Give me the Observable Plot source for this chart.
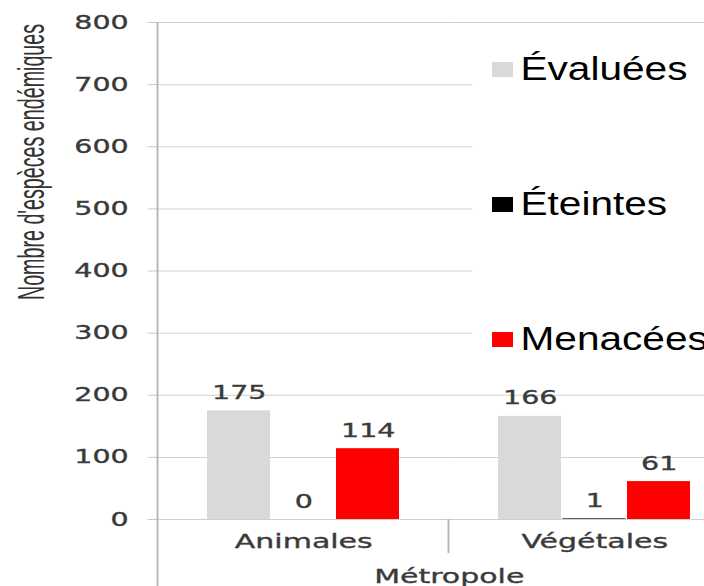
<!DOCTYPE html>
<html>
<head>
<meta charset="utf-8">
<script src="https://cdn.jsdelivr.net/npm/d3@7"></script>
<script src="https://cdn.jsdelivr.net/npm/@observablehq/plot@0.6"></script>
<style>
  html, body { margin: 0; padding: 0; background: #fff; overflow: hidden; width: 704px; height: 586px; }
  #wrap { position: relative; width: 504px; height: 600px; transform: scaleX(1.5); transform-origin: 0 0; }
  #wrap svg text { paint-order: stroke; stroke: #3a3a3a; stroke-width: 0.35px; }
  #ytitle { position: absolute; left: 20.7px; top: 162px; transform: translate(-50%, -50%) rotate(-90deg) scaleX(0.82);
    white-space: nowrap; font-family: "Liberation Sans", Arial, sans-serif; font-size: 24px; line-height: 1; color: #333; }
  #legend { position: absolute; left: 315px; top: 30px; width: 200px; height: 335px; background: #fff; }
  .sw { position: absolute; left: 13px; width: 14px; height: 15px; }
  .lab { position: absolute; left: 32px; font-family: "Liberation Sans", Arial, sans-serif; font-size: 33px; line-height: 33px;
    color: #000; white-space: nowrap; transform: scaleX(0.82); transform-origin: 0 0; }
</style>
</head>
<body>
<div id="wrap"></div>
<script>
const groups = ["Animales", "Végétales"];
const series = ["Évaluées", "Éteintes", "Menacées"];
const evaluees = [175, 166];
const eteintes = [0, 1];
const menacees = [114, 61];
const seriesColors = ["#d9d9d9", "#000000", "#ff0000"];
const yTicks = [0, 100, 200, 300, 400, 500, 600, 700, 800];
const yTitle = "Nombre d'espèces endémiques";
const groupTitle = "Métropole";

const valuesBySeries = [evaluees, eteintes, menacees];
const data = groups.flatMap((g, i) => series.map((s, j) => ({group: g, series: s, value: valuesBySeries[j][i]})));

const W = 504, H = 600;
const plot = Plot.plot({
  width: W, height: H,
  marginLeft: 105, marginRight: 11, marginTop: 22, marginBottom: 81,
  style: {fontFamily: "DejaVu Sans", background: "transparent", overflow: "visible"},
  fx: {domain: groups, padding: 0, label: groupTitle},
  x: {domain: series, paddingInner: 0.03, paddingOuter: 0.74, axis: null},
  y: {domain: [0, 800]},
  color: {domain: series, range: seriesColors},
  marks: [
    Plot.gridY(yTicks, {stroke: "#d0d0d0", strokeOpacity: 1}),
    Plot.axisY(yTicks, {tickSize: 6.7, tickPadding: 13, fontSize: 19, stroke: "#c8c8c8", fill: "#3a3a3a", label: null}),
    Plot.barY(data, {fx: "group", x: "series", y: "value", fill: "series"}),
    Plot.text(data, {fx: "group", x: "series", y: "value", text: d => String(d.value), dy: -12, lineAnchor: "bottom", fontSize: 19, fill: "#3a3a3a"}),
    Plot.axisFx({anchor: "bottom", tickSize: 0, tickPadding: 14, fontSize: 20, fill: "#3a3a3a", label: groupTitle, labelAnchor: "center", labelOffset: 63})
  ]
});

// axis line and group separators, positioned with Plot's own scales
const fxs = plot.scale("fx"), ys = plot.scale("y");
const ns = "http://www.w3.org/2000/svg";
function addLine(x, y1, y2) {
  const l = document.createElementNS(ns, "line");
  l.setAttribute("x1", x); l.setAttribute("x2", x);
  l.setAttribute("y1", y1); l.setAttribute("y2", y2);
  l.setAttribute("stroke", "#b8b8b8"); l.setAttribute("stroke-width", 1.3);
  plot.appendChild(l);
}
const y0 = ys.apply(0), yTop = ys.apply(800);
addLine(fxs.apply(groups[0]), yTop, H);
groups.slice(1).forEach(g => addLine(fxs.apply(g), y0, y0 + 34));
addLine(fxs.apply(groups[groups.length - 1]) + fxs.bandwidth, y0, y0 + 34);

const wrap = document.getElementById("wrap");
wrap.appendChild(plot);

const t = document.createElement("div");
t.id = "ytitle"; t.textContent = yTitle;
wrap.appendChild(t);

const legend = document.createElement("div");
legend.id = "legend";
const baselines = [80, 215, 350];
series.forEach((s, i) => {
  const b = baselines[i] - 30;
  const sw = document.createElement("div");
  sw.className = "sw"; sw.style.background = seriesColors[i];
  sw.style.top = (b - 18) + "px";
  const lab = document.createElement("div");
  lab.className = "lab"; lab.textContent = s;
  lab.style.top = (b - 28) + "px";
  legend.appendChild(sw); legend.appendChild(lab);
});
wrap.appendChild(legend);
</script>
</body>
</html>
